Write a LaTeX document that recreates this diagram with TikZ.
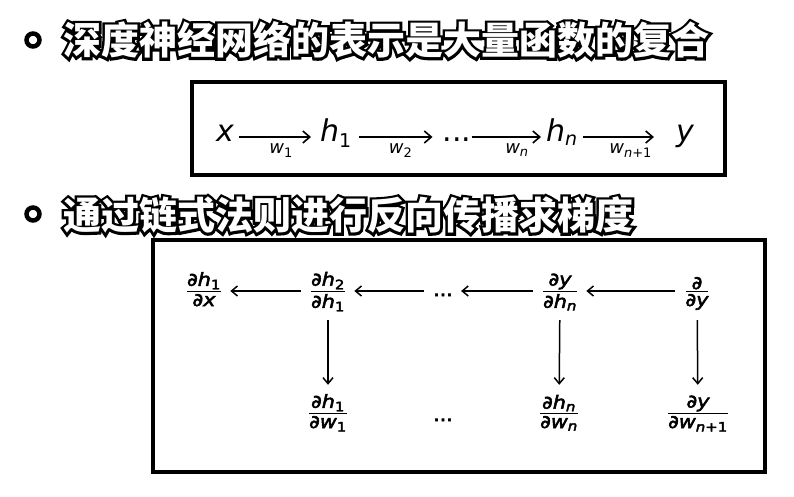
\documentclass[tikz,border=0pt]{standalone}
\usepackage{amsmath}
\usepackage{fontspec}
\usetikzlibrary{arrows.meta}
\newfontfamily\cjk{Noto Sans CJK SC}
\newfontfamily\cjkout{Noto Sans CJK SC}[FakeBold=14]
\newfontfamily\mfi{DejaVu Sans Oblique}
\newfontfamily\mfu{DejaVu Sans}
\newfontfamily\mfiw{DejaVu Sans Oblique}[FakeStretch=1.15,FakeBold=3]
\newfontfamily\mfuw{DejaVu Sans}[FakeStretch=1.15,FakeBold=3]
\let\curit\mfi \let\curup\mfu
\newcommand\I[1]{\text{\curit #1}}
\newcommand\U[1]{\text{\curup #1}}
\newcommand\fr[2]{$\genfrac{}{}{1.6pt}{1}{\textstyle #1}{\textstyle #2}$}
\newcommand\outl[1]{\rlap{\color{black}\cjkout\bfseries #1}{\color{white}\cjk\bfseries #1}}
\DeclareMathSizes{30}{30}{19}{14}
\DeclareMathSizes{18}{18}{13}{10}
\tikzset{
  boxframe/.style={draw, line width=4pt},
  bulletdot/.style={circle, draw, fill=white, line width=4.5pt, minimum size=13pt, inner sep=0pt},
  headline/.style={anchor=west, inner sep=0pt, font=\fontsize{38}{38}\selectfont},
  chain/.style={anchor=base, inner xsep=3pt, inner ysep=0pt, text height=20pt, text depth=10pt, font=\fontsize{30}{30}\selectfont\mfi},
  chainarrow/.style={line width=1.6pt, -{Straight Barb[length=7pt,width=12pt,line width=1.6pt]}},
  wlabel/.style={below=6pt, inner sep=0pt, font=\fontsize{18}{18}\selectfont\mfi},
  fracnode/.style={anchor=base, inner sep=0pt, text height=25pt, text depth=15pt, font={\fontsize{18}{18}\selectfont\let\curit\mfiw\let\curup\mfuw\mfiw}},
  backarrow/.style={line width=1.5pt, -{Straight Barb[length=6pt,width=10pt,line width=1.5pt]}, shorten <=9pt, shorten >=8pt},
}
\begin{document}
\begin{tikzpicture}[x=1pt,y=-1pt]
\useasboundingbox (0,0) rectangle (794,497);
% headings
\node[bulletdot] (b1) at (33,40) {};
\node[headline] (t1) at (63,40) {\outl{深度神经网络的表示是大量函数的复合}};
\node[bulletdot] (b2) at (33,214) {};
\node[headline] (t2) at (63,215) {\outl{通过链式法则进行反向传播求梯度}};
% box 1
\draw[boxframe] (192,82) rectangle (725,175);
\node[chain] (x) at (225,142) {$\I{x}$};
\node[chain] (h1) at (336,142) {$\I{h}_{\U{1}}$};
\node[chain] (d1) at (457,142) {\mfu ...};
\node[chain] (hn) at (562,142) {$\I{h}_{\I{n}}$};
\node[chain] (y) at (685,142) {$\I{y}$};
\draw[chainarrow, shorten <=2pt, shorten >=6pt] (x) -- node[wlabel, pos=.55] (lw1) {$\I{w}_{\U{1}}$} (h1);
\draw[chainarrow, shorten <=4pt, shorten >=7pt] (h1) -- node[wlabel, pos=.54] (lw2) {$\I{w}_{\U{2}}$} (d1);
\draw[chainarrow, shorten <=-3pt, shorten >=2pt] (d1) -- node[wlabel, pos=.62] (lwn) {$\I{w}_{\I{n}}$} (hn);
\draw[chainarrow, shorten <=2pt, shorten >=19pt] (hn) -- node[wlabel, pos=.54] (lwn1) {$\I{w}_{\I{n}\U{+1}}$} (y);
% box 2
\draw[boxframe] (153,240) rectangle (765,472);
\node[fracnode] (f1) at (204,296) {\fr{\I{∂h}_{\U{1}}}{\I{∂x}}};
\node[fracnode] (f2) at (328,296) {\fr{\I{∂h}_{\U{2}}}{\I{∂h}_{\U{1}}}};
\node[fracnode] (d2) at (443,296) {\mfuw ...};
\node[fracnode] (f4) at (560,296) {\fr{\I{∂y}}{\I{∂h}_{\I{n}}}};
\node[fracnode] (f5) at (697,296) {\fr{\I{∂}}{\I{∂y}}};
\node[fracnode] (g2) at (328,418) {\fr{\I{∂h}_{\U{1}}}{\I{∂w}_{\U{1}}}};
\node[fracnode] (d3) at (443,421) {\mfuw ...};
\node[fracnode] (g4) at (559,418) {\fr{\I{∂h}_{\I{n}}}{\I{∂w}_{\I{n}}}};
\node[fracnode] (g5) at (698,418) {\fr{\I{∂y}}{\I{∂w}_{\I{n}\U{+1}}}};
\draw[backarrow] (f2) -- (f1);
\draw[backarrow] (d2) -- (f2);
\draw[backarrow] (f4) -- (d2);
\draw[backarrow] (f5) -- (f4);
\draw[backarrow] (f2) -- (g2);
\draw[backarrow] (f4) -- (g4);
\draw[backarrow] (f5) -- (g5);
\end{tikzpicture}
\end{document}
